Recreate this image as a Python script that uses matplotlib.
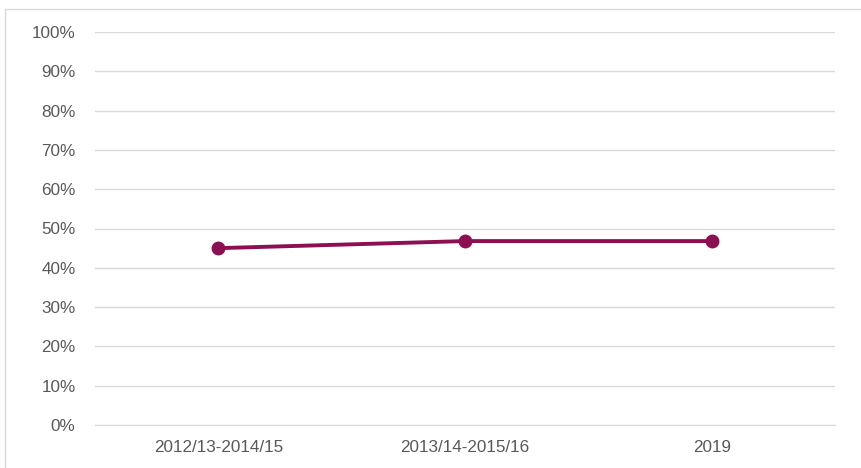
import matplotlib
matplotlib.use("Agg")
import matplotlib.pyplot as plt
from matplotlib.patches import Rectangle

# data
periods = ["2012/13-2014/15", "2013/14-2015/16", "2019"]
values = [0.45, 0.468, 0.468]
yticks = [i / 10 for i in range(11)]

LINE = "#8C0F52"
TEXT = "#595959"
GRID = "#D9D9D9"

plt.rcParams["font.family"] = ["Liberation Sans", "DejaVu Sans"]

fig = plt.figure(figsize=(8.62, 4.68), dpi=100)
ax = fig.add_axes([95 / 862, 1 - 425 / 468, 740 / 862, 393 / 468])

x = range(len(periods))
ax.plot(x, values, color=LINE, linewidth=2.8, marker="o", markersize=9,
        solid_capstyle="round", zorder=3)

ax.set_xlim(-0.5, len(periods) - 0.5)
ax.set_ylim(0, 1)
ax.set_yticks(yticks)
ax.set_yticklabels([f"{int(round(t * 100))}%" for t in yticks])
ax.set_xticks(list(x))
ax.set_xticklabels(periods)

ax.grid(axis="y", color=GRID, linewidth=1)
ax.set_axisbelow(True)
for s in ["top", "right", "left"]:
    ax.spines[s].set_visible(False)
ax.spines["bottom"].set_color(GRID)
ax.tick_params(axis="both", length=0, colors=TEXT, labelsize=12.3)
ax.tick_params(axis="y", pad=14)
ax.tick_params(axis="x", pad=11)

# chart border
fig.patches.append(Rectangle((5 / 862, -0.1), 1.2, 1 - 9 / 468 + 0.1,
                             transform=fig.transFigure, fill=False,
                             edgecolor=GRID, linewidth=1))

fig.savefig("out.png", dpi=100)
